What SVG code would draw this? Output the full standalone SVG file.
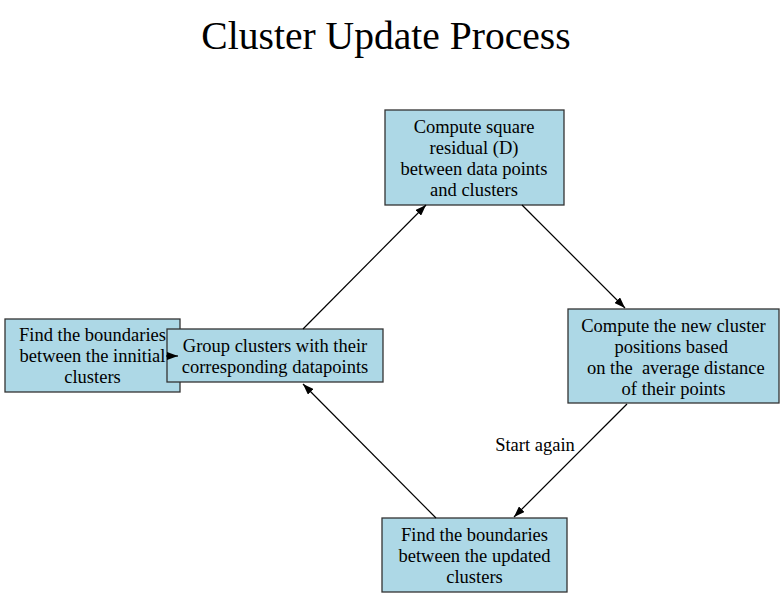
<svg xmlns="http://www.w3.org/2000/svg" width="784" height="597" viewBox="0 0 784 597">
<style>
.box{fill:#add8e6;stroke:#333;stroke-width:1.3}
.t{font-family:'Liberation Serif','Tinos','DejaVu Serif',serif;font-size:18.5px;fill:#000;text-anchor:middle;white-space:pre}
.title{font-family:'Liberation Serif','Tinos','DejaVu Serif',serif;font-size:39.6px;fill:#000;text-anchor:middle}
.e{stroke:#000;stroke-width:1.2;fill:none;marker-end:url(#ah)}
</style>
<defs>
<marker id="ah" markerUnits="userSpaceOnUse" markerWidth="12" markerHeight="8" refX="11" refY="4" orient="auto">
<path d="M0,0 L11,4 L0,8 z" fill="#000"/>
</marker>
</defs>
<rect width="784" height="597" fill="#fff"/>
<text class="title" x="386" y="49">Cluster Update Process</text>
<g id="node-compute-residual">
<rect class="box" x="385" y="110" width="179" height="95"/>
<text class="t" x="474" y="133">Compute square</text>
<text class="t" x="474" y="154">residual (D)</text>
<text class="t" x="474" y="175">between data points</text>
<text class="t" x="474" y="196">and clusters</text>
</g>
<g id="node-compute-new">
<rect class="box" x="568" y="309" width="211" height="94"/>
<text class="t" x="673.5" y="332">Compute the new cluster</text>
<text class="t" x="673.5" y="353">positions based </text>
<text class="t" x="673.5" y="374"> on the  average distance</text>
<text class="t" x="673.5" y="395">of their points</text>
</g>
<g id="node-find-updated">
<rect class="box" x="382" y="518" width="185" height="74"/>
<text class="t" x="474.5" y="541">Find the boundaries</text>
<text class="t" x="474.5" y="562">between the updated</text>
<text class="t" x="474.5" y="583">clusters</text>
</g>
<g id="node-find-initial">
<rect class="box" x="5" y="319" width="175" height="73"/>
<text class="t" x="92.5" y="341">Find the boundaries</text>
<text class="t" x="92.5" y="362">between the innitial</text>
<text class="t" x="92.5" y="383">clusters</text>
</g>
<g id="node-group">
<rect class="box" x="167" y="329" width="216" height="53"/>
<text class="t" x="275" y="352">Group clusters with their</text>
<text class="t" x="275" y="373">corresponding datapoints</text>
</g>
<g id="connectors">
<line class="e" x1="303" y1="329" x2="426" y2="205"/>
<line class="e" x1="522" y1="205" x2="625" y2="308"/>
<line class="e" x1="627" y1="404" x2="514" y2="517"/>
<line class="e" x1="436" y1="518" x2="303" y2="384"/>
<line class="e" x1="166" y1="356" x2="178" y2="356"/>
<text class="t" x="535" y="451">Start again</text>
</g>
</svg>
